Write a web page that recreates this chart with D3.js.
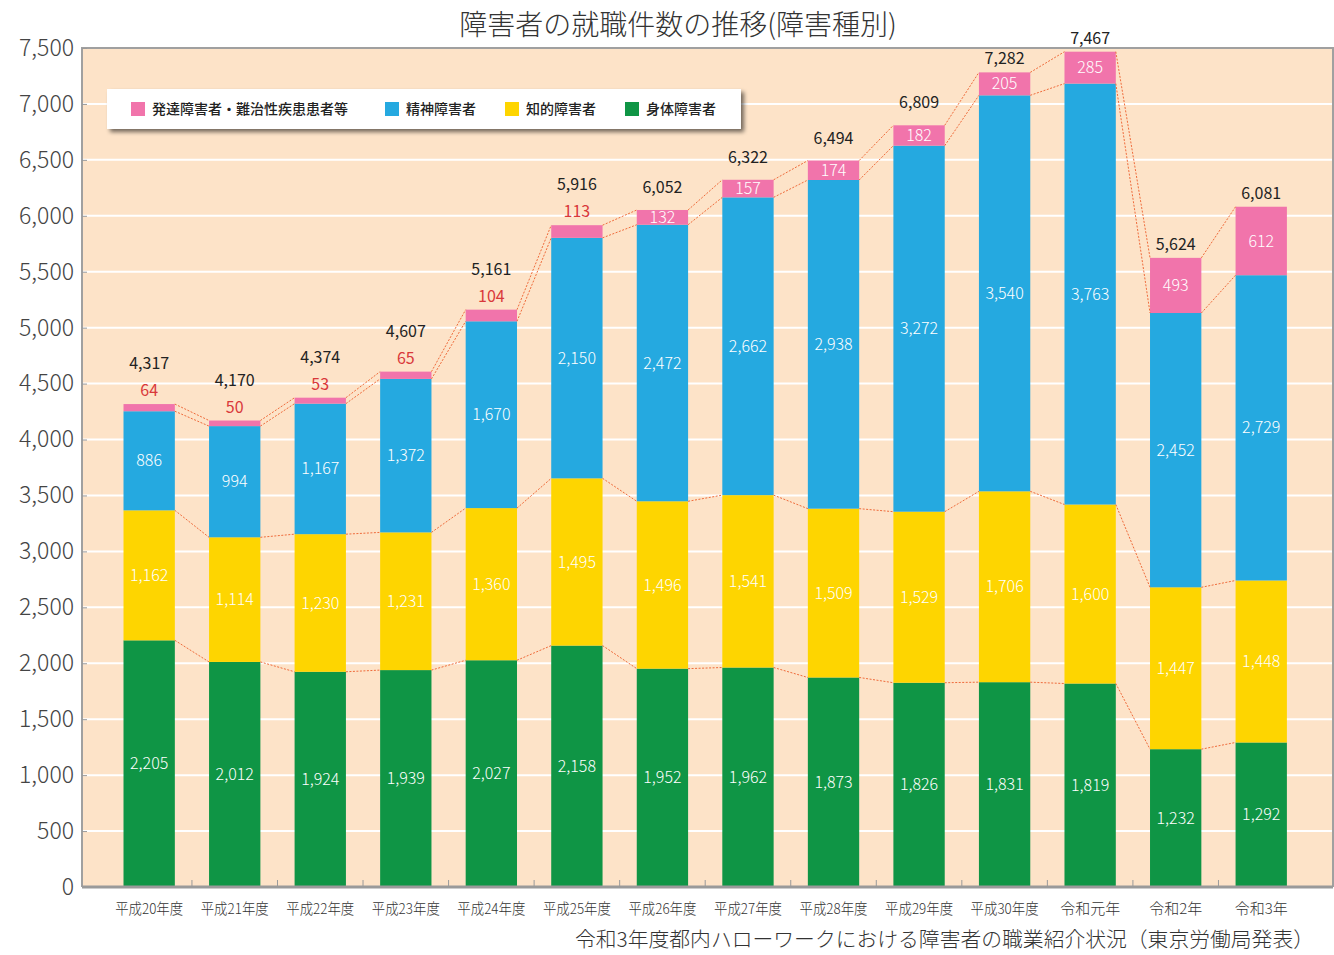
<!DOCTYPE html>
<html>
<head>
<meta charset="utf-8">
<script src="https://cdn.jsdelivr.net/npm/d3@7"></script>
<style>
  body { margin: 0; background: #fff; }
  text { font-family: "Noto Sans CJK JP", "Noto Sans", sans-serif; }
</style>
</head>
<body>
<div id="chart"></div>
<script>
'use strict';

// categories (fiscal years)
const years = ['平成20年度','平成21年度','平成22年度','平成23年度','平成24年度','平成25年度','平成26年度',
  '平成27年度','平成28年度','平成29年度','平成30年度','令和元年','令和2年','令和3年'];

// series values, bottom to top
const physical = [2205, 2012, 1924, 1939, 2027, 2158, 1952, 1962, 1873, 1826, 1831, 1819, 1232, 1292];
const intellectual = [1162, 1114, 1230, 1231, 1360, 1495, 1496, 1541, 1509, 1529, 1706, 1600, 1447, 1448];
const mental = [886, 994, 1167, 1372, 1670, 2150, 2472, 2662, 2938, 3272, 3540, 3763, 2452, 2729];
const developmental = [64, 50, 53, 65, 104, 113, 132, 157, 174, 182, 205, 285, 493, 612];

const yTicks = [0, 500, 1000, 1500, 2000, 2500, 3000, 3500, 4000, 4500, 5000, 5500, 6000, 6500, 7000, 7500];

const seriesInfo = [
  {key: 'physical', name: '身体障害者', color: '#0f9545', values: physical},
  {key: 'intellectual', name: '知的障害者', color: '#fed500', values: intellectual},
  {key: 'mental', name: '精神障害者', color: '#25a9e0', values: mental},
  {key: 'developmental', name: '発達障害者・難治性疾患患者等', color: '#f174ab', values: developmental}
];
const legendOrder = ['developmental', 'mental', 'intellectual', 'physical'];

const dimensions = {
  width: 1334,
  height: 955,
  plotLeft: 82,
  plotRight: 1333,
  plotTop: 48,
  plotBottom: 887
};

const rows = years.map((y, i) => {
  const r = {year: y};
  seriesInfo.forEach(s => { r[s.key] = s.values[i]; });
  return r;
});
const totals = rows.map(r => d3.sum(seriesInfo, s => r[s.key]));

const svg = d3.select('#chart').append('svg')
  .attr('width', dimensions.width)
  .attr('height', dimensions.height);

const defs = svg.append('defs');
const shadow = defs.append('filter').attr('id', 'shadow')
  .attr('x', '-5%').attr('y', '-30%').attr('width', '115%').attr('height', '180%');
shadow.append('feGaussianBlur').attr('in', 'SourceAlpha').attr('stdDeviation', 2);
shadow.append('feOffset').attr('dx', 3).attr('dy', 3).attr('result', 'b');
shadow.append('feComponentTransfer').append('feFuncA').attr('type', 'linear').attr('slope', 0.55);
const merge = shadow.append('feMerge');
merge.append('feMergeNode');
merge.append('feMergeNode').attr('in', 'SourceGraphic');

// scales
const x = d3.scaleBand()
  .domain(years)
  .range([106.4, 1304])
  .paddingInner(0.4)
  .paddingOuter(0.2);

const y = d3.scaleLinear()
  .domain([0, 7500])
  .range([dimensions.plotBottom, dimensions.plotTop]);

// plot background
svg.append('rect')
  .attr('x', dimensions.plotLeft)
  .attr('y', dimensions.plotTop)
  .attr('width', dimensions.plotRight - dimensions.plotLeft)
  .attr('height', dimensions.plotBottom - dimensions.plotTop)
  .attr('fill', '#fde3c8');

// grid lines
svg.append('g')
  .selectAll('line')
  .data(yTicks.filter(d => d > 0 && d < 7500))
  .join('line')
  .attr('x1', dimensions.plotLeft)
  .attr('x2', dimensions.plotRight)
  .attr('y1', d => y(d))
  .attr('y2', d => y(d))
  .attr('stroke', '#ffffff')
  .attr('stroke-width', 2);

// border top/left/right
svg.append('path')
  .attr('d', `M${dimensions.plotLeft},${dimensions.plotBottom}V${dimensions.plotTop}H${dimensions.plotRight}V${dimensions.plotBottom}`)
  .attr('fill', 'none')
  .attr('stroke', '#a0a0a0')
  .attr('stroke-width', 2);

// stacked bars
const stack = d3.stack().keys(seriesInfo.map(s => s.key));
const stacked = stack(rows);
const colorOf = {};
seriesInfo.forEach(s => { colorOf[s.key] = s.color; });

const barG = svg.append('g');
stacked.forEach(layer => {
  barG.append('g')
    .attr('fill', colorOf[layer.key])
    .selectAll('rect')
    .data(layer)
    .join('rect')
    .attr('x', d => x(d.data.year))
    .attr('y', d => y(d[1]))
    .attr('width', x.bandwidth())
    .attr('height', d => y(d[0]) - y(d[1]));
});

// dotted connector lines at each segment top
const connG = svg.append('g')
  .attr('fill', 'none')
  .attr('stroke', '#ef6b3b')
  .attr('stroke-width', 1)
  .attr('stroke-dasharray', '2,1.5');
stacked.forEach(layer => {
  for (let i = 0; i < layer.length - 1; i++) {
    const a = layer[i], b = layer[i + 1];
    connG.append('line')
      .attr('x1', x(a.data.year) + x.bandwidth())
      .attr('y1', y(a[1]))
      .attr('x2', x(b.data.year))
      .attr('y2', y(b[1]));
  }
});

// segment labels
const fmt = d3.format(',');
const labelG = svg.append('g')
  .attr('font-size', 16)
  .attr('font-weight', 300)
  .attr('fill', '#ffffff')
  .attr('text-anchor', 'middle');
stacked.forEach(layer => {
  layer.forEach(d => {
    const v = d.data[layer.key];
    if (layer.key === 'developmental' && v < 120) return;
    labelG.append('text')
      .attr('x', x(d.data.year) + x.bandwidth() / 2)
      .attr('y', (y(d[0]) + y(d[1])) / 2)
      .attr('dy', '0.35em')
      .text(fmt(v));
  });
});

// small developmental values above bars (red) and totals
const topG = svg.append('g').attr('text-anchor', 'middle').attr('font-size', 16);
rows.forEach((r, i) => {
  const cx = x(r.year) + x.bandwidth() / 2;
  const top = y(totals[i]);
  let totalY = r.developmental < 200 ? top - 17 : top - 8;
  if (r.developmental < 120) {
    topG.append('text')
      .attr('x', cx)
      .attr('y', top - 8)
      .attr('fill', '#d9383a')
      .text(r.developmental);
    totalY = top - 35;
  }
  topG.append('text')
    .attr('x', cx)
    .attr('y', totalY)
    .attr('fill', '#222')
    .text(fmt(totals[i]));
});

// y axis
const yAxis = d3.axisLeft(y)
  .tickValues(yTicks)
  .tickFormat(d3.format(','))
  .tickSize(-5)
  .tickPadding(8);
const yAxisGroup = svg.append('g')
  .attr('transform', `translate(${dimensions.plotLeft},0)`)
  .call(yAxis);
yAxisGroup.select('.domain').remove();
yAxisGroup.selectAll('line').attr('stroke', '#999');
yAxisGroup.selectAll('text')
  .style('font-size', '23px')
  .style('font-weight', 300)
  .attr('fill', '#444');

// x axis: baseline, boundary ticks, labels
svg.append('line')
  .attr('x1', dimensions.plotLeft)
  .attr('x2', dimensions.plotRight)
  .attr('y1', dimensions.plotBottom)
  .attr('y2', dimensions.plotBottom)
  .attr('stroke', '#9a9a9a')
  .attr('stroke-width', 3);

svg.append('g')
  .selectAll('line')
  .data(years.slice(1))
  .join('line')
  .attr('x1', d => x(d) - x.step() * x.paddingInner() / 2)
  .attr('x2', d => x(d) - x.step() * x.paddingInner() / 2)
  .attr('y1', dimensions.plotBottom - 7)
  .attr('y2', dimensions.plotBottom)
  .attr('stroke', '#9a9a9a')
  .attr('stroke-width', 1);

const xAxis = d3.axisBottom(x).tickSize(0).tickPadding(16);
const xAxisGroup = svg.append('g')
  .attr('transform', `translate(0,${dimensions.plotBottom})`)
  .call(xAxis);
xAxisGroup.select('.domain').remove();
xAxisGroup.selectAll('text')
  .style('font-size', '15px')
  .style('font-weight', 300)
  .attr('fill', '#333')
  .attr('textLength', d => d.length > 4 ? 68 : null)
  .attr('lengthAdjust', 'spacingAndGlyphs');

// legend
const legend = svg.append('g');
legend.append('rect')
  .attr('x', 107)
  .attr('y', 89)
  .attr('width', 634)
  .attr('height', 40)
  .attr('fill', '#ffffff')
  .attr('filter', 'url(#shadow)');
const legendX = {developmental: 131, mental: 385, intellectual: 505, physical: 625};
const legendItems = legend.selectAll('g.item')
  .data(legendOrder)
  .join('g')
  .attr('class', 'item')
  .attr('transform', d => `translate(${legendX[d]},102)`);
legendItems.append('rect')
  .attr('width', 14)
  .attr('height', 14)
  .attr('fill', d => colorOf[d]);
legendItems.append('text')
  .attr('x', 21)
  .attr('y', 7)
  .attr('dy', '0.35em')
  .style('font-size', '14px')
  .style('font-weight', 500)
  .attr('fill', '#222')
  .text(d => seriesInfo.find(s => s.key === d).name);

// title and source
svg.append('text')
  .attr('x', 678)
  .attr('y', 25)
  .attr('dy', '0.35em')
  .attr('text-anchor', 'middle')
  .style('font-size', '28px')
  .style('font-weight', 300)
  .attr('fill', '#333')
  .text('障害者の就職件数の推移(障害種別)');

svg.append('text')
  .attr('x', 1314)
  .attr('y', 940)
  .attr('dy', '0.35em')
  .attr('text-anchor', 'end')
  .style('font-size', '20.8px')
  .style('font-weight', 300)
  .attr('fill', '#333')
  .text('令和3年度都内ハローワークにおける障害者の職業紹介状況（東京労働局発表）');
</script>
</body>
</html>
